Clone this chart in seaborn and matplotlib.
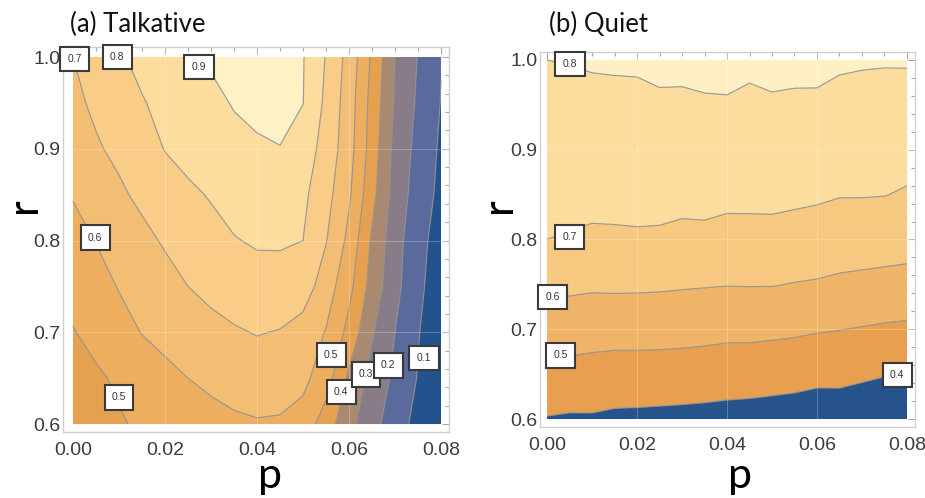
import numpy as np
import matplotlib
matplotlib.use("Agg")
import matplotlib.pyplot as plt
from matplotlib.ticker import MultipleLocator, FormatStrFormatter
import seaborn as sns

# ---------------- data ----------------
p_values = [0.0, 0.005, 0.01, 0.015, 0.02, 0.025, 0.03, 0.035, 0.04,
            0.045, 0.05, 0.055, 0.06, 0.065, 0.07, 0.075, 0.08]
r_values = [0.6, 0.65, 0.7, 0.75, 0.8, 0.85, 0.9, 0.95, 1.0]

# (a) Talkative : rows follow r_values, columns follow p_values
z_talkative = [
    [0.430, 0.455, 0.490, 0.515, 0.535, 0.555, 0.572, 0.585, 0.593, 0.590, 0.560, 0.450, 0.330, 0.235, 0.145, 0.070, 0.020],
    [0.465, 0.485, 0.515, 0.545, 0.575, 0.600, 0.618, 0.635, 0.645, 0.640, 0.625, 0.545, 0.380, 0.265, 0.180, 0.095, 0.030],
    [0.495, 0.530, 0.565, 0.603, 0.628, 0.652, 0.672, 0.690, 0.705, 0.695, 0.660, 0.595, 0.470, 0.310, 0.200, 0.105, 0.040],
    [0.530, 0.565, 0.605, 0.635, 0.668, 0.700, 0.725, 0.748, 0.763, 0.765, 0.750, 0.650, 0.530, 0.360, 0.230, 0.120, 0.050],
    [0.570, 0.603, 0.640, 0.676, 0.710, 0.735, 0.765, 0.795, 0.810, 0.810, 0.800, 0.705, 0.575, 0.385, 0.240, 0.130, 0.060],
    [0.605, 0.645, 0.685, 0.720, 0.760, 0.780, 0.808, 0.835, 0.855, 0.860, 0.820, 0.735, 0.615, 0.430, 0.260, 0.155, 0.075],
    [0.650, 0.690, 0.720, 0.762, 0.803, 0.835, 0.860, 0.878, 0.892, 0.899, 0.850, 0.765, 0.640, 0.455, 0.270, 0.170, 0.085],
    [0.680, 0.716, 0.755, 0.794, 0.824, 0.853, 0.881, 0.905, 0.915, 0.912, 0.902, 0.780, 0.650, 0.465, 0.290, 0.185, 0.097],
    [0.700, 0.744, 0.789, 0.824, 0.857, 0.895, 0.910, 0.920, 0.930, 0.925, 0.905, 0.795, 0.665, 0.485, 0.300, 0.196, 0.103],
]

# (b) Quiet
z_quiet = [
    [0.395, 0.389, 0.390, 0.382, 0.380, 0.377, 0.374, 0.371, 0.367, 0.363, 0.358, 0.353, 0.344, 0.347, 0.334, 0.322, 0.310],
    [0.471, 0.469, 0.464, 0.458, 0.458, 0.457, 0.455, 0.451, 0.445, 0.444, 0.439, 0.434, 0.425, 0.424, 0.415, 0.405, 0.397],
    [0.546, 0.546, 0.539, 0.537, 0.537, 0.536, 0.533, 0.529, 0.524, 0.524, 0.520, 0.515, 0.507, 0.502, 0.495, 0.488, 0.483],
    [0.622, 0.619, 0.614, 0.616, 0.615, 0.613, 0.609, 0.606, 0.603, 0.604, 0.604, 0.597, 0.592, 0.584, 0.578, 0.573, 0.569],
    [0.700, 0.694, 0.687, 0.688, 0.690, 0.688, 0.680, 0.681, 0.671, 0.673, 0.673, 0.666, 0.658, 0.648, 0.646, 0.642, 0.636],
    [0.725, 0.724, 0.723, 0.724, 0.725, 0.726, 0.723, 0.725, 0.721, 0.720, 0.721, 0.717, 0.7125, 0.704, 0.704, 0.702, 0.692],
    [0.750, 0.750, 0.752, 0.753, 0.753, 0.757, 0.755, 0.758, 0.756, 0.752, 0.756, 0.752, 0.749, 0.740, 0.739, 0.737, 0.732],
    [0.775, 0.776, 0.780, 0.781, 0.782, 0.788, 0.787, 0.791, 0.792, 0.784, 0.790, 0.787, 0.786, 0.776, 0.773, 0.772, 0.769],
    [0.800, 0.803, 0.808, 0.810, 0.811, 0.819, 0.819, 0.825, 0.828, 0.817, 0.825, 0.822, 0.823, 0.812, 0.808, 0.806, 0.807],
]

levels_talkative = [0.1, 0.2, 0.3, 0.4, 0.5, 0.6, 0.7, 0.8, 0.9]
levels_quiet = [0.4, 0.5, 0.6, 0.7, 0.8]

x_ticks = [0.00, 0.02, 0.04, 0.06, 0.08]
y_ticks = [0.6, 0.7, 0.8, 0.9, 1.0]

titles = ["(a) Talkative", "(b) Quiet"]

# contour label annotations: text, p, r
labels_talkative = [("0.7", 0.0004, 0.998), ("0.8", 0.0096, 1.0), ("0.9", 0.0274, 0.989),
                    ("0.6", 0.0048, 0.803), ("0.5", 0.0100, 0.629), ("0.5", 0.0561, 0.675),
                    ("0.4", 0.0583, 0.635), ("0.3", 0.0637, 0.654), ("0.2", 0.0685, 0.664),
                    ("0.1", 0.0763, 0.672)]
labels_quiet = [("0.8", 0.0051, 0.9955), ("0.7", 0.0051, 0.803), ("0.6", 0.0013, 0.736),
                ("0.5", 0.0031, 0.671), ("0.4", 0.0778, 0.649)]

# ---------------- style ----------------
colors_talkative = ["#24528c", "#5a6a9c", "#877c88", "#a98a70", "#e6a150",
                    "#edae60", "#f3be74", "#f9cd88", "#fcdd9e", "#fef1c6"]
colors_quiet = ["#26538c", "#e8a050", "#f0b468", "#f7c880", "#fcdd9e", "#fef0c4"]

sns.set_theme(style="white")
plt.rcParams["font.family"] = ["Liberation Sans", "DejaVu Sans"]

W, H = 925, 498
fig = plt.figure(figsize=(W / 100, H / 100), dpi=100)
fig.patch.set_facecolor("white")


def px_axes(x0, y0, x1, y1):
    return fig.add_axes([x0 / W, 1 - y1 / H, (x1 - x0) / W, (y1 - y0) / H])


ax_a = px_axes(63, 47, 449, 432)
ax_b = px_axes(540, 52, 915, 427)

panels = [
    (ax_a, z_talkative, levels_talkative, colors_talkative, labels_talkative,
     (-0.00217, 0.08174), (0.5913, 1.0109)),
    (ax_b, z_quiet, levels_quiet, colors_quiet, labels_quiet,
     (-0.00156, 0.08178), (0.5911, 1.0089)),
]

P, R = np.meshgrid(p_values, r_values)
for ax, z, levels, cols, labs, xl, yl in panels:
    Z = np.array(z)
    bounds = [-1.0] + levels + [2.0]
    ax.contourf(P, R, Z, levels=bounds, colors=cols, antialiased=True, zorder=1)
    ax.contourf(P, R, Z, levels=bounds, colors=cols, antialiased=True, zorder=1)
    ax.contour(P, R, Z, levels=levels, colors="#929292", linewidths=0.85, alpha=0.9, zorder=2)
    for xt in x_ticks[1:-1]:
        ax.axvline(xt, color="white", lw=0.7, alpha=0.25, zorder=3)
    for yt in y_ticks[1:-1]:
        ax.axhline(yt, color="white", lw=0.7, alpha=0.25, zorder=3)
    for txt, px_, ry in labs:
        ax.text(px_, ry, txt, ha="center", va="center", fontsize=7.5, color="#333333",
                zorder=6, clip_on=False,
                bbox=dict(boxstyle="square,pad=0.7", fc="white", ec="#3a3a3a", lw=1.5))
    ax.set_xlim(*xl)
    ax.set_ylim(*yl)
    ax.set_xticks(x_ticks)
    ax.set_yticks(y_ticks)
    ax.xaxis.set_major_formatter(FormatStrFormatter("%.2f"))
    ax.yaxis.set_major_formatter(FormatStrFormatter("%.1f"))
    ax.xaxis.set_minor_locator(MultipleLocator(0.005))
    ax.yaxis.set_minor_locator(MultipleLocator(0.02))
    ax.tick_params(which="both", direction="in", top=True, right=True,
                   color="#a8a8a8", width=0.8)
    ax.tick_params(which="major", length=5, labelsize=14, labelcolor="#3c3c3c")
    ax.tick_params(axis="y", which="major", pad=2)
    ax.tick_params(axis="x", which="major", pad=7)
    ax.tick_params(which="minor", length=3)
    for s in ax.spines.values():
        s.set_color("#cfcfcf")
        s.set_linewidth(1.0)
    ax.set_facecolor("white")

# axis labels and titles
fig.text(270 / W, 1 - 488 / H, "p", fontsize=31, family="Lato", ha="center", va="baseline", color="black")
fig.text(740 / W, 1 - 488 / H, "p", fontsize=31, family="Lato", ha="center", va="baseline", color="black")
fig.text(24 / W, 1 - 205 / H, "r", fontsize=31, family="Lato", ha="center", va="center",
         rotation=90, color="black")
fig.text(499 / W, 1 - 205 / H, "r", fontsize=31, family="Lato", ha="center", va="center",
         rotation=90, color="black")
fig.text(70 / W, 1 - 24 / H, titles[0], fontsize=18.5, family="Lato", ha="left", va="center", color="#111111")
fig.text(549 / W, 1 - 24 / H, titles[1], fontsize=18.5, family="Lato", ha="left", va="center", color="#111111")

fig.savefig("out.png", dpi=100, facecolor="white")
